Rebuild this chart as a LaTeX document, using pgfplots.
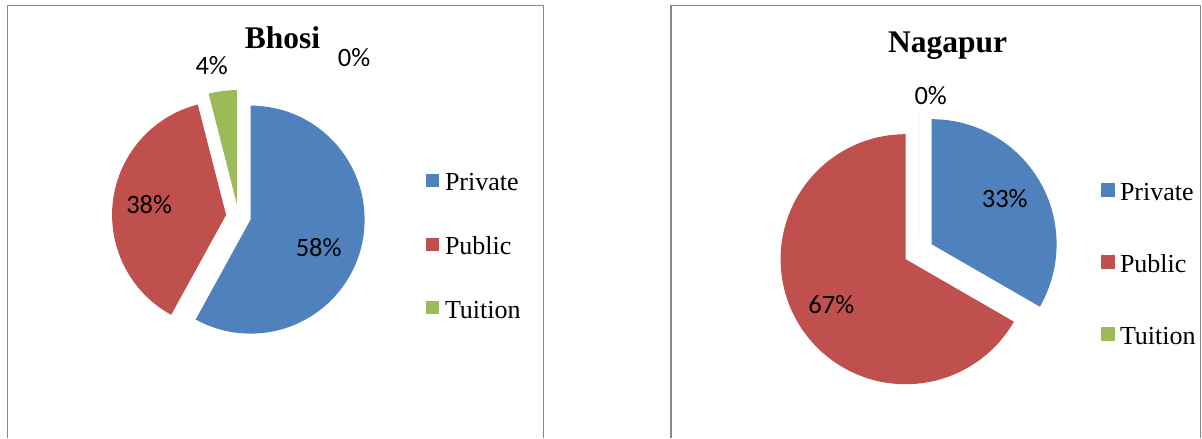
\documentclass[border=0pt]{standalone}
\usepackage{pgfplots}
\pgfplotsset{compat=1.18}
\usepackage{pgfplotstable}
\usepackage{fontspec}
\setmainfont{Liberation Serif}
\newfontfamily\carlito{Carlito}

\definecolor{pieblue}{HTML}{4F81BD}
\definecolor{piered}{HTML}{C0504D}
\definecolor{piegreen}{HTML}{9BBB59}
\definecolor{boxgray}{HTML}{888888}

\pgfplotstableread{
name value color
Private 58 pieblue
Public 38 piered
Tuition 4 piegreen
}\bhosi
\pgfplotstableread{
name value color
Private 33.33 pieblue
Public 66.67 piered
Tuition 0 piegreen
}\nagpur

\newcommand\drawpie[5]{%
  \pgfplotstablegetrowsof{#1}%
  \pgfmathtruncatemacro\pieLast{\pgfplotsretval-1}%
  \gdef\pieStart{90}%
  \foreach \r in {0,...,\pieLast}{%
    \pgfplotstablegetelem{\r}{value}\of#1\let\pieVal\pgfplotsretval
    \pgfplotstablegetelem{\r}{color}\of#1\let\pieCol\pgfplotsretval
    \pgfmathsetmacro\pieEnd{\pieStart-3.6*\pieVal}%
    \pgfmathsetmacro\pieMid{(\pieStart+\pieEnd)/2}%
    \fill[color=\pieCol] (axis cs:#2,#3) ++(\pieMid:#5) -- ++(\pieStart:#4) arc[start angle=\pieStart, end angle=\pieEnd, radius=#4] -- cycle;
    \xdef\pieStart{\pieEnd}%
  }%
}

\pgfplotsset{
  canvas/.style={
    at={(0,0)}, anchor=south west,
    scale only axis, width=1202bp, height=438bp,
    xmin=0, xmax=1202, ymin=0, ymax=438,
    hide axis, clip=false,
    legend image code/.code={\fill[##1] (0bp,-3bp) rectangle (13bp,10bp);},
  },
  pielegend/.style={
    legend style={draw=none, fill=none, inner sep=0pt, outer sep=0pt,
      anchor=north west, column sep=6bp,
      nodes={inner sep=0pt, text height=20bp, text depth=6bp,
        font=\fontsize{26bp}{30bp}\selectfont},
      cells={anchor=west}},
  },
}
\tikzset{
  pct/.style={anchor=base, inner sep=0pt, font=\carlito\fontsize{26.5bp}{30bp}\selectfont},
  ttl/.style={anchor=base, inner sep=0pt, font=\fontsize{31.5bp}{36bp}\bfseries\selectfont},
}

\begin{document}
\begin{tikzpicture}
% ---------------- Bhosi ----------------
\begin{axis}[canvas, pielegend,
  legend style={at={(0.354409,0.609589)}, row sep=37.7bp}]
  \path (axis cs:0,0) rectangle (axis cs:1202,438);
  \draw[boxgray, line width=1.5bp] (axis cs:7.5,0) -- (axis cs:7.5,432.5) -- (axis cs:543.5,432.5) -- (axis cs:543.5,0);
  \pgfplotsextra{\drawpie{\bhosi}{238.5}{221.5}{114bp}{12.5bp}}
  \addlegendimage{fill=pieblue, draw=none}
  \addlegendimage{fill=piered, draw=none}
  \addlegendimage{fill=piegreen, draw=none}
  \legend{Private,Public,Tuition}
  \node[ttl] at (axis cs:282.5,389.7) {Bhosi};
  \node[pct] at (axis cs:211.7,363) {4\%};
  \node[pct] at (axis cs:354,371.3) {0\%};
  \node[pct] at (axis cs:149.2,224.7) {38\%};
  \node[pct] at (axis cs:318.7,181.3) {58\%};
\end{axis}
% ---------------- Nagapur ----------------
\begin{axis}[canvas, pielegend,
  legend style={at={(0.915973,0.587443)}, row sep=45.7bp, column sep=5bp},
  legend image code/.code={\fill[#1] (0bp,-3.5bp) rectangle (14bp,10.5bp);}]
  \draw[boxgray, line width=1.5bp] (axis cs:671,0) -- (axis cs:671,432.5) -- (axis cs:1200.7,432.5) -- (axis cs:1200.7,0);
  \pgfplotsextra{\drawpie{\nagpur}{918.6}{186.3}{125bp}{15bp}}
  \addlegendimage{fill=pieblue, draw=none}
  \addlegendimage{fill=piered, draw=none}
  \addlegendimage{fill=piegreen, draw=none}
  \legend{Private,Public,Tuition}
  \node[ttl] at (axis cs:947.6,385.3) {Nagapur};
  \node[pct] at (axis cs:930.7,333) {0\%};
  \node[pct] at (axis cs:1004.7,230.7) {33\%};
  \node[pct] at (axis cs:831.3,124.7) {67\%};
\end{axis}
\end{tikzpicture}
\end{document}
